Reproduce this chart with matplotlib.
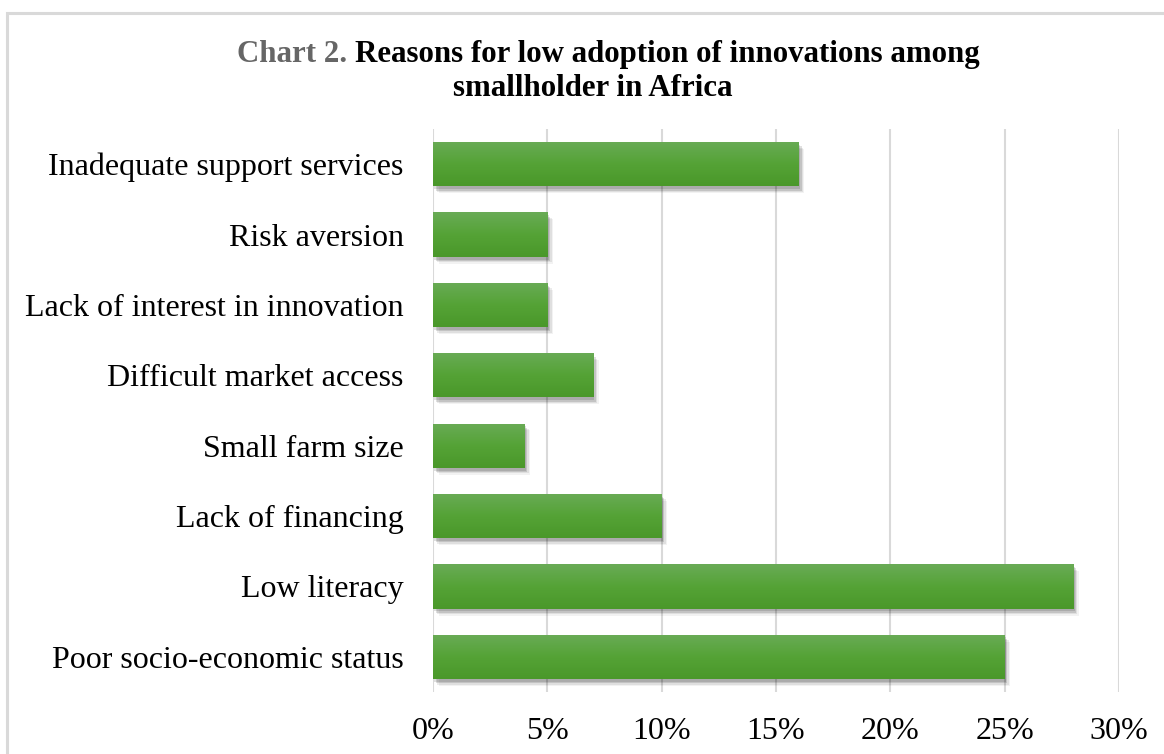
import numpy as np
import matplotlib.pyplot as plt
import matplotlib.patheffects as pe
from matplotlib.patches import Rectangle
from matplotlib.colors import LinearSegmentedColormap
from matplotlib.ticker import FuncFormatter

## Data ##########################################################
reasons = ['Poor socio-economic status', 'Low literacy', 'Lack of financing',
           'Small farm size', 'Difficult market access',
           'Lack of interest in innovation', 'Risk aversion',
           'Inadequate support services']
shares = [25, 28, 10, 4, 7, 5, 5, 16]  # percent
xticks = [0, 5, 10, 15, 20, 25, 30]
title_gray = 'Chart 2. '
title_rest = 'Reasons for low adoption of innovations among'
title_line2 = 'smallholder in Africa'
## ###############################################################

plt.rcParams['font.family'] = ['Liberation Serif', 'DejaVu Serif']

fig = plt.figure(figsize=(11.64, 7.54), dpi=100)
# outer chart border (light gray)
fig.patches.append(Rectangle((7/1164, -0.1), 1.2, 1 - 13/754 + 0.1,
                             transform=fig.transFigure, fill=False,
                             edgecolor='#d9d9d9', linewidth=2.2))

ax = fig.add_axes([433/1164, 1 - 692/754, (1119 - 433)/1164, (692 - 129)/754])
ypos = np.arange(len(reasons))
# soft shadow: a few faint offset copies
shadow = [pe.SimplePatchShadow(offset=(o, -o - 1), shadow_rgbFace='#000000', alpha=a)
          for o, a in [(4, 0.05), (3, 0.08), (2, 0.12), (1, 0.12)]]
bars = ax.barh(ypos, shares, height=0.63, color='#55a235', zorder=3,
               path_effects=shadow + [pe.Normal()])

# vertical gradient on each bar
grad = LinearSegmentedColormap.from_list('g', ['#4a982a', '#55a336', '#69ab56'])
gimg = np.linspace(0, 1, 64).reshape(-1, 1)
for b in bars:
    x0, y0 = b.get_x(), b.get_y()
    im = ax.imshow(gimg, cmap=grad, aspect='auto', origin='lower', zorder=4,
                   extent=[x0, x0 + b.get_width(), y0, y0 + b.get_height()])
    im.set_clip_path(b)

ax.set_xlim(0, 30)
ax.set_ylim(-0.5, len(reasons) - 0.5)
ax.set_xticks(xticks)
ax.xaxis.set_major_formatter(FuncFormatter(lambda v, p: '%d%%' % v))
ax.set_yticks(ypos)
ax.set_yticklabels(reasons)
ax.tick_params(axis='both', length=0, labelsize=23, colors='black')
ax.tick_params(axis='y', pad=21)
ax.tick_params(axis='x', pad=18)
ax.grid(axis='x', color='#d9d9d9', linewidth=1.5, zorder=0)
for s in ax.spines.values():
    s.set_visible(False)

# title, first part in gray
t1 = fig.text(237/1164, 1 - 62/754, title_gray, fontsize=22.2, fontweight='bold',
              color='#666666', ha='left', va='baseline')
fig.canvas.draw()
bb = t1.get_window_extent()
fig.text(bb.x1/1164, 1 - 62/754, title_rest, fontsize=22.2, fontweight='bold',
         color='black', ha='left', va='baseline')
fig.text(593/1164, 1 - 96/754, title_line2, fontsize=22.2, fontweight='bold',
         color='black', ha='center', va='baseline')

plt.savefig('out.png', dpi=100)
